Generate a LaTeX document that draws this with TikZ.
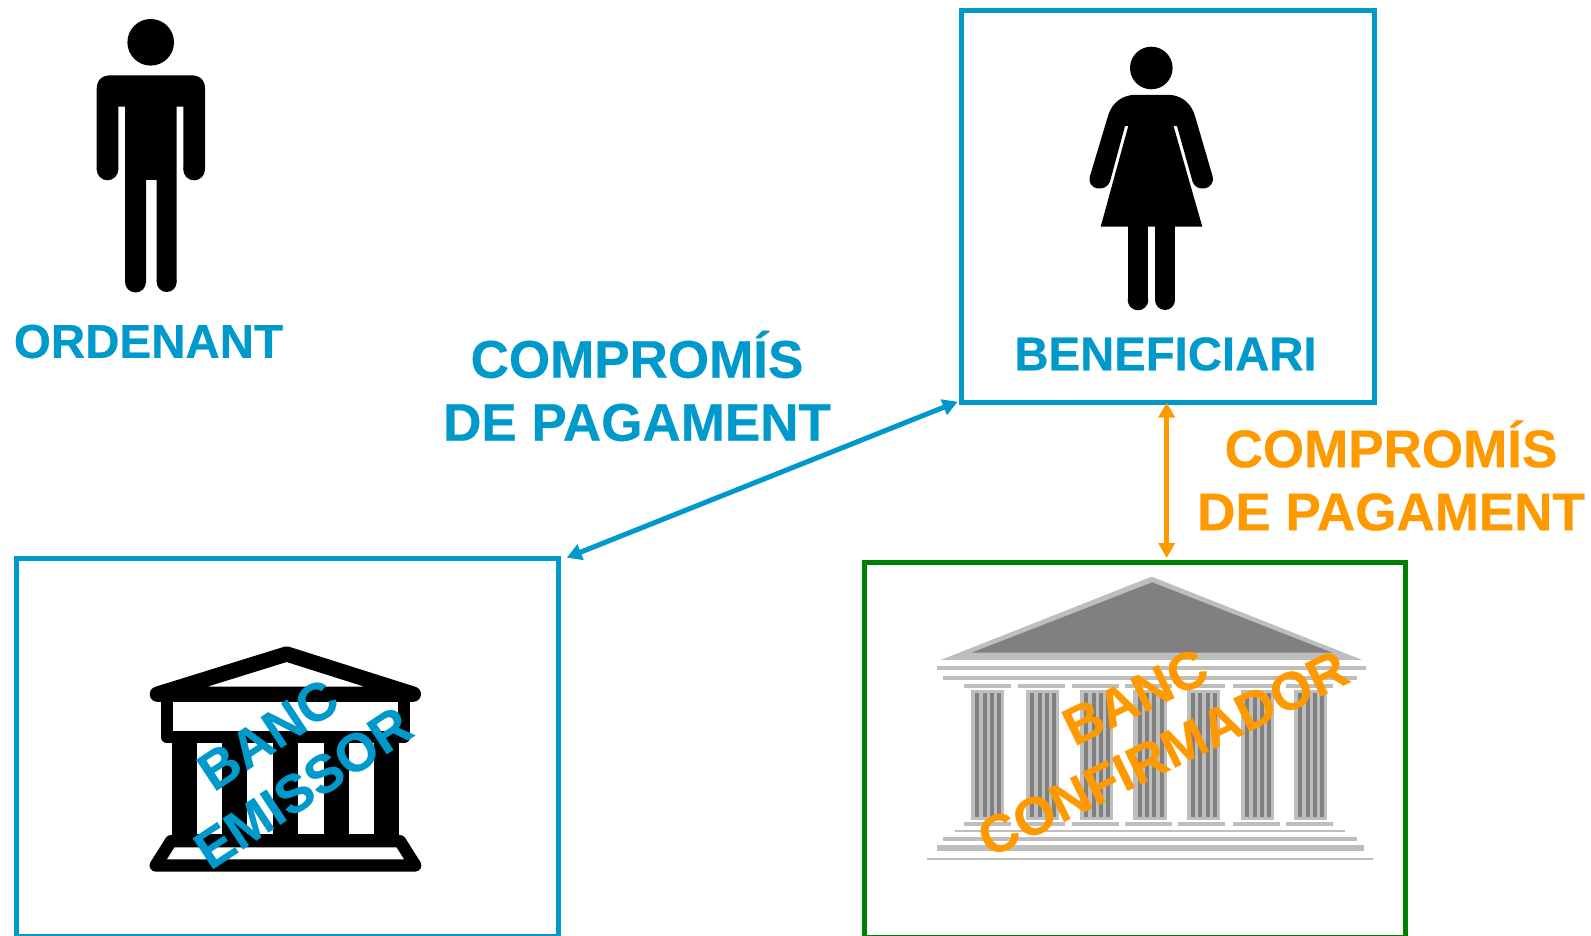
\documentclass[tikz,border=0pt]{standalone}
\usepackage{fontspec}
\setmainfont[BoldFeatures={FakeBold=0.5}]{Liberation Sans}
\usetikzlibrary{arrows.meta,calc}
\definecolor{cblue}{HTML}{0099CC}
\definecolor{corange}{HTML}{FF9900}
\definecolor{cgreen}{HTML}{008000}
\definecolor{gl}{HTML}{BEBEBE}
\definecolor{gd}{HTML}{808080}
\tikzset{
  framebox/.style={draw=#1,line width=5pt,fill=none,inner sep=0pt},
  lbl/.style={font=\fontsize{#1}{#1}\selectfont\bfseries,align=center,inner sep=0pt},
  clbl/.style={lbl=53,text=#1},
  twoway/.style={#1,line width=5pt,{Triangle[width=16pt,length=15pt]}-{Triangle[width=16pt,length=15pt]}},
  icon/.style={draw=black,fill=white,line join=round}
}
\begin{document}
\begin{tikzpicture}[x=1pt,y=-1pt]
\useasboundingbox (0,0) rectangle (1591,936);
% man
\fill (150.7,42.3) circle (23.3);
\fill (96.7,169.5) -- (96.7,89) .. controls (96.7,80) and (102,75.3) .. (111,75.3) -- (191,75.3) .. controls (200,75.3) and (205,80) .. (205,89) -- (205,169.5) -- (183.3,169.5) -- (183.3,106.7) -- (176.7,106.7) -- (176.7,282) -- (156.7,282) -- (156.7,180) -- (146,180) -- (146,282) -- (125,282) -- (125,106.7) -- (118.3,106.7) -- (118.3,169.5) -- cycle;
\fill (107.5,169.5) circle (10.8);
\fill (194.15,169.5) circle (10.85);
\fill (135.5,282) circle (10.5);
\fill (166.7,282) circle (10);
% woman
\fill (1151.3,68) circle (21.3);
\fill (1131.7,95) -- (1171.7,95) .. controls (1185,97) and (1192,106) .. (1195,116) -- (1212.5,176) .. controls (1216,190) and (1196,193) .. (1192.5,181.5) -- (1177,126) -- (1173.5,126) -- (1202.3,226.7) -- (1100.7,226.7) -- (1128.3,126) -- (1125,126) -- (1110,181.5) .. controls (1106,193) and (1086,190) .. (1090,176) -- (1108,116) .. controls (1111,106) and (1118,97) .. (1131.7,95) -- cycle;
\fill (1127.7,226) rectangle (1148.3,300);
\fill (1155,226) rectangle (1175,300);
\fill (1138,300) circle (10.3);
\fill (1165,300) circle (10);
% bank 1 (black)
\begin{scope}[shift={(130,630)},x=0.3333pt,y=-0.3333pt]
\fill (125,321) rectangle (808,640);
\foreach \c in {200,352,505,657} \fill[white] (\c,335) rectangle (\c+76,612);
\draw[icon,line width=12pt] (110,190) -- (110,321.5) -- (823.5,321.5) -- (823.5,190) -- cycle;
\draw[icon,line width=15.3pt] (470,72) -- (82,192.5) -- (850,192.5) -- cycle;
\draw[icon,line width=12.3pt] (123,633.5) -- (77,706.5) -- (856,706.5) -- (810,633.5) -- cycle;
\end{scope}
% bank 2 (grey)
\begin{scope}[shift={(920,570)},x=0.3333pt,y=-0.3333pt]
\fill[gl] (695,20) -- (62,270) -- (1327,270) -- cycle;
\fill[gd] (697,37) -- (155,248) -- (1237,248) -- cycle;
\fill[gl] (51,288) rectangle (1338,300);
\fill[gl] (70,318) rectangle (1310,330);
\foreach \c in {132,294,456,615,774,939,1098} {
  \fill[gl] (\c,342) rectangle (\c+141,354);
  \fill[gl] (\c,756) rectangle (\c+141,768);
}
\foreach \c in {153,318,480,640,800,963,1122} {
  \fill[gl] (\c,360) rectangle (\c+100,750);
  \foreach \d in {13,35,57,79} \fill[gd] (\c+\d,370) rectangle (\c+\d+12,742);
}
\fill[gl] (105,780) rectangle (1275,787);
\fill[gl] (70,800) rectangle (1310,812);
\fill[gl] (51,825) rectangle (1332,843);
\fill[gl] (21,865) rectangle (1358,869);
\end{scope}
% frames
\node[framebox=cblue,minimum width=413pt,minimum height=391pt] (benef) at (1167.5,206.5) {};
\node[framebox=cblue,minimum width=541.5pt,minimum height=378pt] (emissor) at (287.25,747) {};
\node[framebox=cgreen,minimum width=541pt,minimum height=375pt] (confirm) at (1135,749.5) {};
% connector ends
\coordinate (blueA) at ($(benef.south west)+(-0.8,-2.8)$);
\coordinate (blueB) at ($(emissor.north east)+(6.2,2.2)$);
\coordinate (orangeA) at ($(benef.south)+(-0.8,-2)$);
\coordinate (orangeB) at ($(confirm.north)+(31.7,-1.5)$);
\draw[twoway=cblue] (blueA) -- (blueB);
\draw[twoway=corange] (orangeA) -- (orangeB);
% labels
\node[lbl=47.5,text=cblue] (ord) at (148.5,341.5) {ORDENANT};
\node[lbl=47.3,text=cblue] (benl) at (1165.5,354) {BENEFICIARI};
\node[clbl=cblue] (cp1) at (637,386) {COMPROMÍS\\[10pt]DE PAGAMENT};
\node[clbl=corange] (cp2) at (1391,475.5) {COMPROMÍS\\[10pt]DE PAGAMENT};
\node[lbl=53.5,text=cblue,rotate=33.5] (be) at (285.5,761) {BANC\\[10pt]EMISSOR};
\node[lbl=53,text=corange,rotate=26] (bc) at (1149,725) {BANC\\[10pt]CONFIRMADOR};
\end{tikzpicture}
\end{document}
